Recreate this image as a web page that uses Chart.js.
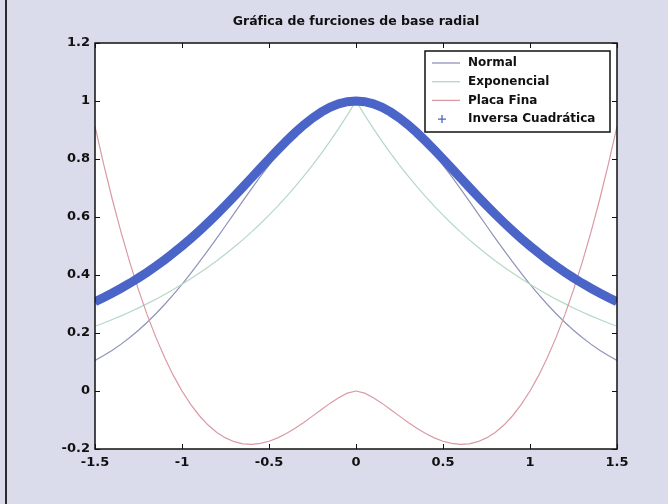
<!DOCTYPE html>
<html lang="es">
<head>
<meta charset="utf-8">
<title>Gráfica de funciones de base radial</title>
<script src="https://cdn.jsdelivr.net/npm/chart.js@4.4.1/dist/chart.umd.min.js"></script>
<style>
  body { margin: 0; background: #dadcec; }
  canvas { display: block; }
</style>
</head>
<body>
<canvas id="grafico" width="668" height="504"></canvas>
<script>
// -------------------------
// Datos
// -------------------------
const xValores = [-1.5, -1.45, -1.4, -1.35, -1.3, -1.25, -1.2, -1.15, -1.1, -1.05,
  -1, -0.95, -0.9, -0.85, -0.8, -0.75, -0.7, -0.65, -0.6, -0.55,
  -0.5, -0.45, -0.4, -0.35, -0.3, -0.25, -0.2, -0.15, -0.1, -0.05,
  0, 0.05, 0.1, 0.15, 0.2, 0.25, 0.3, 0.35, 0.4, 0.45,
  0.5, 0.55, 0.6, 0.65, 0.7, 0.75, 0.8, 0.85, 0.9, 0.95,
  1, 1.05, 1.1, 1.15, 1.2, 1.25, 1.3, 1.35, 1.4, 1.45, 1.5];

const normal = [0.1054, 0.1222, 0.1409, 0.1616, 0.1845, 0.2096, 0.2369, 0.2665, 0.2982, 0.3321,
  0.3679, 0.4056, 0.4449, 0.4856, 0.5273, 0.5698, 0.6126, 0.6554, 0.6977, 0.7390,
  0.7788, 0.8167, 0.8521, 0.8847, 0.9139, 0.9394, 0.9608, 0.9778, 0.9900, 0.9975,
  1,
  0.9975, 0.9900, 0.9778, 0.9608, 0.9394, 0.9139, 0.8847, 0.8521, 0.8167, 0.7788,
  0.7390, 0.6977, 0.6554, 0.6126, 0.5698, 0.5273, 0.4856, 0.4449, 0.4056, 0.3679,
  0.3321, 0.2982, 0.2665, 0.2369, 0.2096, 0.1845, 0.1616, 0.1409, 0.1222, 0.1054];

const exponencial = [0.2231, 0.2346, 0.2466, 0.2592, 0.2725, 0.2865, 0.3012, 0.3166, 0.3329, 0.3499,
  0.3679, 0.3867, 0.4066, 0.4274, 0.4493, 0.4724, 0.4966, 0.5220, 0.5488, 0.5769,
  0.6065, 0.6376, 0.6703, 0.7047, 0.7408, 0.7788, 0.8187, 0.8607, 0.9048, 0.9512,
  1,
  0.9512, 0.9048, 0.8607, 0.8187, 0.7788, 0.7408, 0.7047, 0.6703, 0.6376, 0.6065,
  0.5769, 0.5488, 0.5220, 0.4966, 0.4724, 0.4493, 0.4274, 0.4066, 0.3867, 0.3679,
  0.3499, 0.3329, 0.3166, 0.3012, 0.2865, 0.2725, 0.2592, 0.2466, 0.2346, 0.2231];

const placaFina = [0.9123, 0.7813, 0.6595, 0.5469, 0.4434, 0.3487, 0.2625, 0.1849, 0.1153, 0.0538,
  0, -0.0463, -0.0853, -0.1174, -0.1428, -0.1618, -0.1748, -0.1820, -0.1839, -0.1808,
  -0.1733, -0.1617, -0.1466, -0.1286, -0.1084, -0.0866, -0.0644, -0.0427, -0.0230, -0.0075,
  0,
  -0.0075, -0.0230, -0.0427, -0.0644, -0.0866, -0.1084, -0.1286, -0.1466, -0.1617, -0.1733,
  -0.1808, -0.1839, -0.1820, -0.1748, -0.1618, -0.1428, -0.1174, -0.0853, -0.0463, 0,
  0.0538, 0.1153, 0.1849, 0.2625, 0.3487, 0.4434, 0.5469, 0.6595, 0.7813, 0.9123];

const inversaCuadratica = [0.3077, 0.3223, 0.3378, 0.3543, 0.3717, 0.3902, 0.4098, 0.4306, 0.4525, 0.4756,
  0.5000, 0.5256, 0.5525, 0.5806, 0.6098, 0.6400, 0.6711, 0.7030, 0.7353, 0.7678,
  0.8000, 0.8316, 0.8621, 0.8909, 0.9174, 0.9412, 0.9615, 0.9780, 0.9901, 0.9975,
  1,
  0.9975, 0.9901, 0.9780, 0.9615, 0.9412, 0.9174, 0.8909, 0.8621, 0.8316, 0.8000,
  0.7678, 0.7353, 0.7030, 0.6711, 0.6400, 0.6098, 0.5806, 0.5525, 0.5256, 0.5000,
  0.4756, 0.4525, 0.4306, 0.4098, 0.3902, 0.3717, 0.3543, 0.3378, 0.3223, 0.3077];

const nombres = ["Normal", "Exponencial", "Placa Fina", "Inversa Cuadrática"];
const titulo = "Gráfica de furciones de base radial";

// ticks
const xTicks = [-1.5, -1, -0.5, 0, 0.5, 1, 1.5];
const xTickLabels = ["-1.5", "-1", "-0.5", "0", "0.5", "1", "1.5"];
const yTicks = [-0.2, 0, 0.2, 0.4, 0.6, 0.8, 1, 1.2];
const yTickLabels = ["-0.2", "0", "0.2", "0.4", "0.6", "0.8", "1", "1.2"];
// -------------------------

const colores = ["#8e93b8", "#b4d8c6", "#d99aa4", "#4a64c8"];
const fuente = "'DejaVu Sans', sans-serif";

const puntos = (serie) => serie.map((y, i) => ({ x: xValores[i], y: y }));

// marco, ticks hacia adentro y leyenda (estilo matlab)
const marco = {
  id: "marco",
  beforeDraw(chart) {
    const { ctx, chartArea: a } = chart;
    ctx.save();
    ctx.fillStyle = "#2b2b2b";
    ctx.fillRect(5, 0, 2, chart.height);
    ctx.fillStyle = "#ffffff";
    ctx.fillRect(a.left, a.top, a.right - a.left, a.bottom - a.top);
    ctx.restore();
  },
  afterDraw(chart) {
    const { ctx, chartArea: a, scales } = chart;
    ctx.save();
    ctx.strokeStyle = "#111";
    ctx.lineWidth = 1.5;
    ctx.strokeRect(a.left, a.top, a.right - a.left, a.bottom - a.top);
    ctx.lineWidth = 1;
    ctx.beginPath();
    xTicks.forEach((v) => {
      const px = Math.round(scales.x.getPixelForValue(v)) + 0.5;
      ctx.moveTo(px, a.bottom); ctx.lineTo(px, a.bottom - 5);
      ctx.moveTo(px, a.top); ctx.lineTo(px, a.top + 5);
    });
    yTicks.forEach((v) => {
      const py = Math.round(scales.y.getPixelForValue(v)) + 0.5;
      ctx.moveTo(a.left, py); ctx.lineTo(a.left + 5, py);
      ctx.moveTo(a.right, py); ctx.lineTo(a.right - 5, py);
    });
    ctx.stroke();

    // leyenda
    const bx = a.right - 192, by = a.top + 8, bw = 185, bh = 81;
    ctx.fillStyle = "#fff";
    ctx.fillRect(bx, by, bw, bh);
    ctx.strokeStyle = "#111";
    ctx.lineWidth = 1.5;
    ctx.strokeRect(bx, by, bw, bh);
    ctx.font = "bold 12px " + fuente;
    ctx.textBaseline = "middle";
    nombres.forEach((nombre, i) => {
      const y = by + 12 + i * 18.7;
      ctx.strokeStyle = colores[i];
      ctx.lineWidth = 1.3;
      ctx.beginPath();
      if (i === 3) {
        ctx.moveTo(bx + 17, y - 4); ctx.lineTo(bx + 17, y + 4);
        ctx.moveTo(bx + 13, y); ctx.lineTo(bx + 21, y);
      } else {
        ctx.moveTo(bx + 7, y); ctx.lineTo(bx + 35, y);
      }
      ctx.stroke();
      ctx.fillStyle = "#111";
      ctx.fillText(nombre, bx + 43, y);
    });
    ctx.restore();
  }
};

const ctx = document.getElementById("grafico").getContext("2d");
const chart = new Chart(ctx, {
  type: "line",
  data: {
    datasets: [
      { label: nombres[0], data: puntos(normal), borderColor: colores[0], borderWidth: 1.2, order: 3 },
      { label: nombres[1], data: puntos(exponencial), borderColor: colores[1], borderWidth: 1.2, order: 2 },
      { label: nombres[2], data: puntos(placaFina), borderColor: colores[2], borderWidth: 1.2, order: 1 },
      { label: nombres[3], data: puntos(inversaCuadratica), borderColor: colores[3], borderWidth: 9, order: 0, clip: 0 },
    ],
  },
  options: {
    responsive: false,
    animation: false,
    parsing: true,
    elements: { point: { radius: 0 }, line: { tension: 0, fill: false } },
    layout: { padding: { left: 0, right: 51, top: 0, bottom: 0 } },
    plugins: {
      legend: { display: false },
      tooltip: { enabled: false },
      title: {
        display: true,
        text: titulo,
        fullSize: false,
        color: "#111",
        font: { family: fuente, size: 12.5, weight: "bold", lineHeight: 1.2 },
        padding: { top: 14, bottom: 14 },
      },
    },
    scales: {
      x: {
        type: "linear",
        min: -1.5,
        max: 1.5,
        afterBuildTicks: (s) => { s.ticks = xTicks.map((v) => ({ value: v })); },
        afterFit: (s) => { s.height = 55; },
        grid: { display: false, drawTicks: false },
        border: { display: false },
        ticks: {
          padding: 6,
          maxRotation: 0,
          color: "#111",
          font: { family: fuente, size: 13, weight: "bold" },
          callback: (v) => xTickLabels[xTicks.indexOf(v)],
        },
      },
      y: {
        type: "linear",
        min: -0.2,
        max: 1.2,
        afterBuildTicks: (s) => { s.ticks = yTicks.map((v) => ({ value: v })); },
        afterFit: (s) => { s.width = 95; },
        grid: { display: false, drawTicks: false },
        border: { display: false },
        ticks: {
          padding: 5,
          color: "#111",
          font: { family: fuente, size: 13, weight: "bold" },
          callback: (v) => yTickLabels[yTicks.indexOf(v)],
        },
      },
    },
  },
  plugins: [marco],
});
</script>
</body>
</html>
